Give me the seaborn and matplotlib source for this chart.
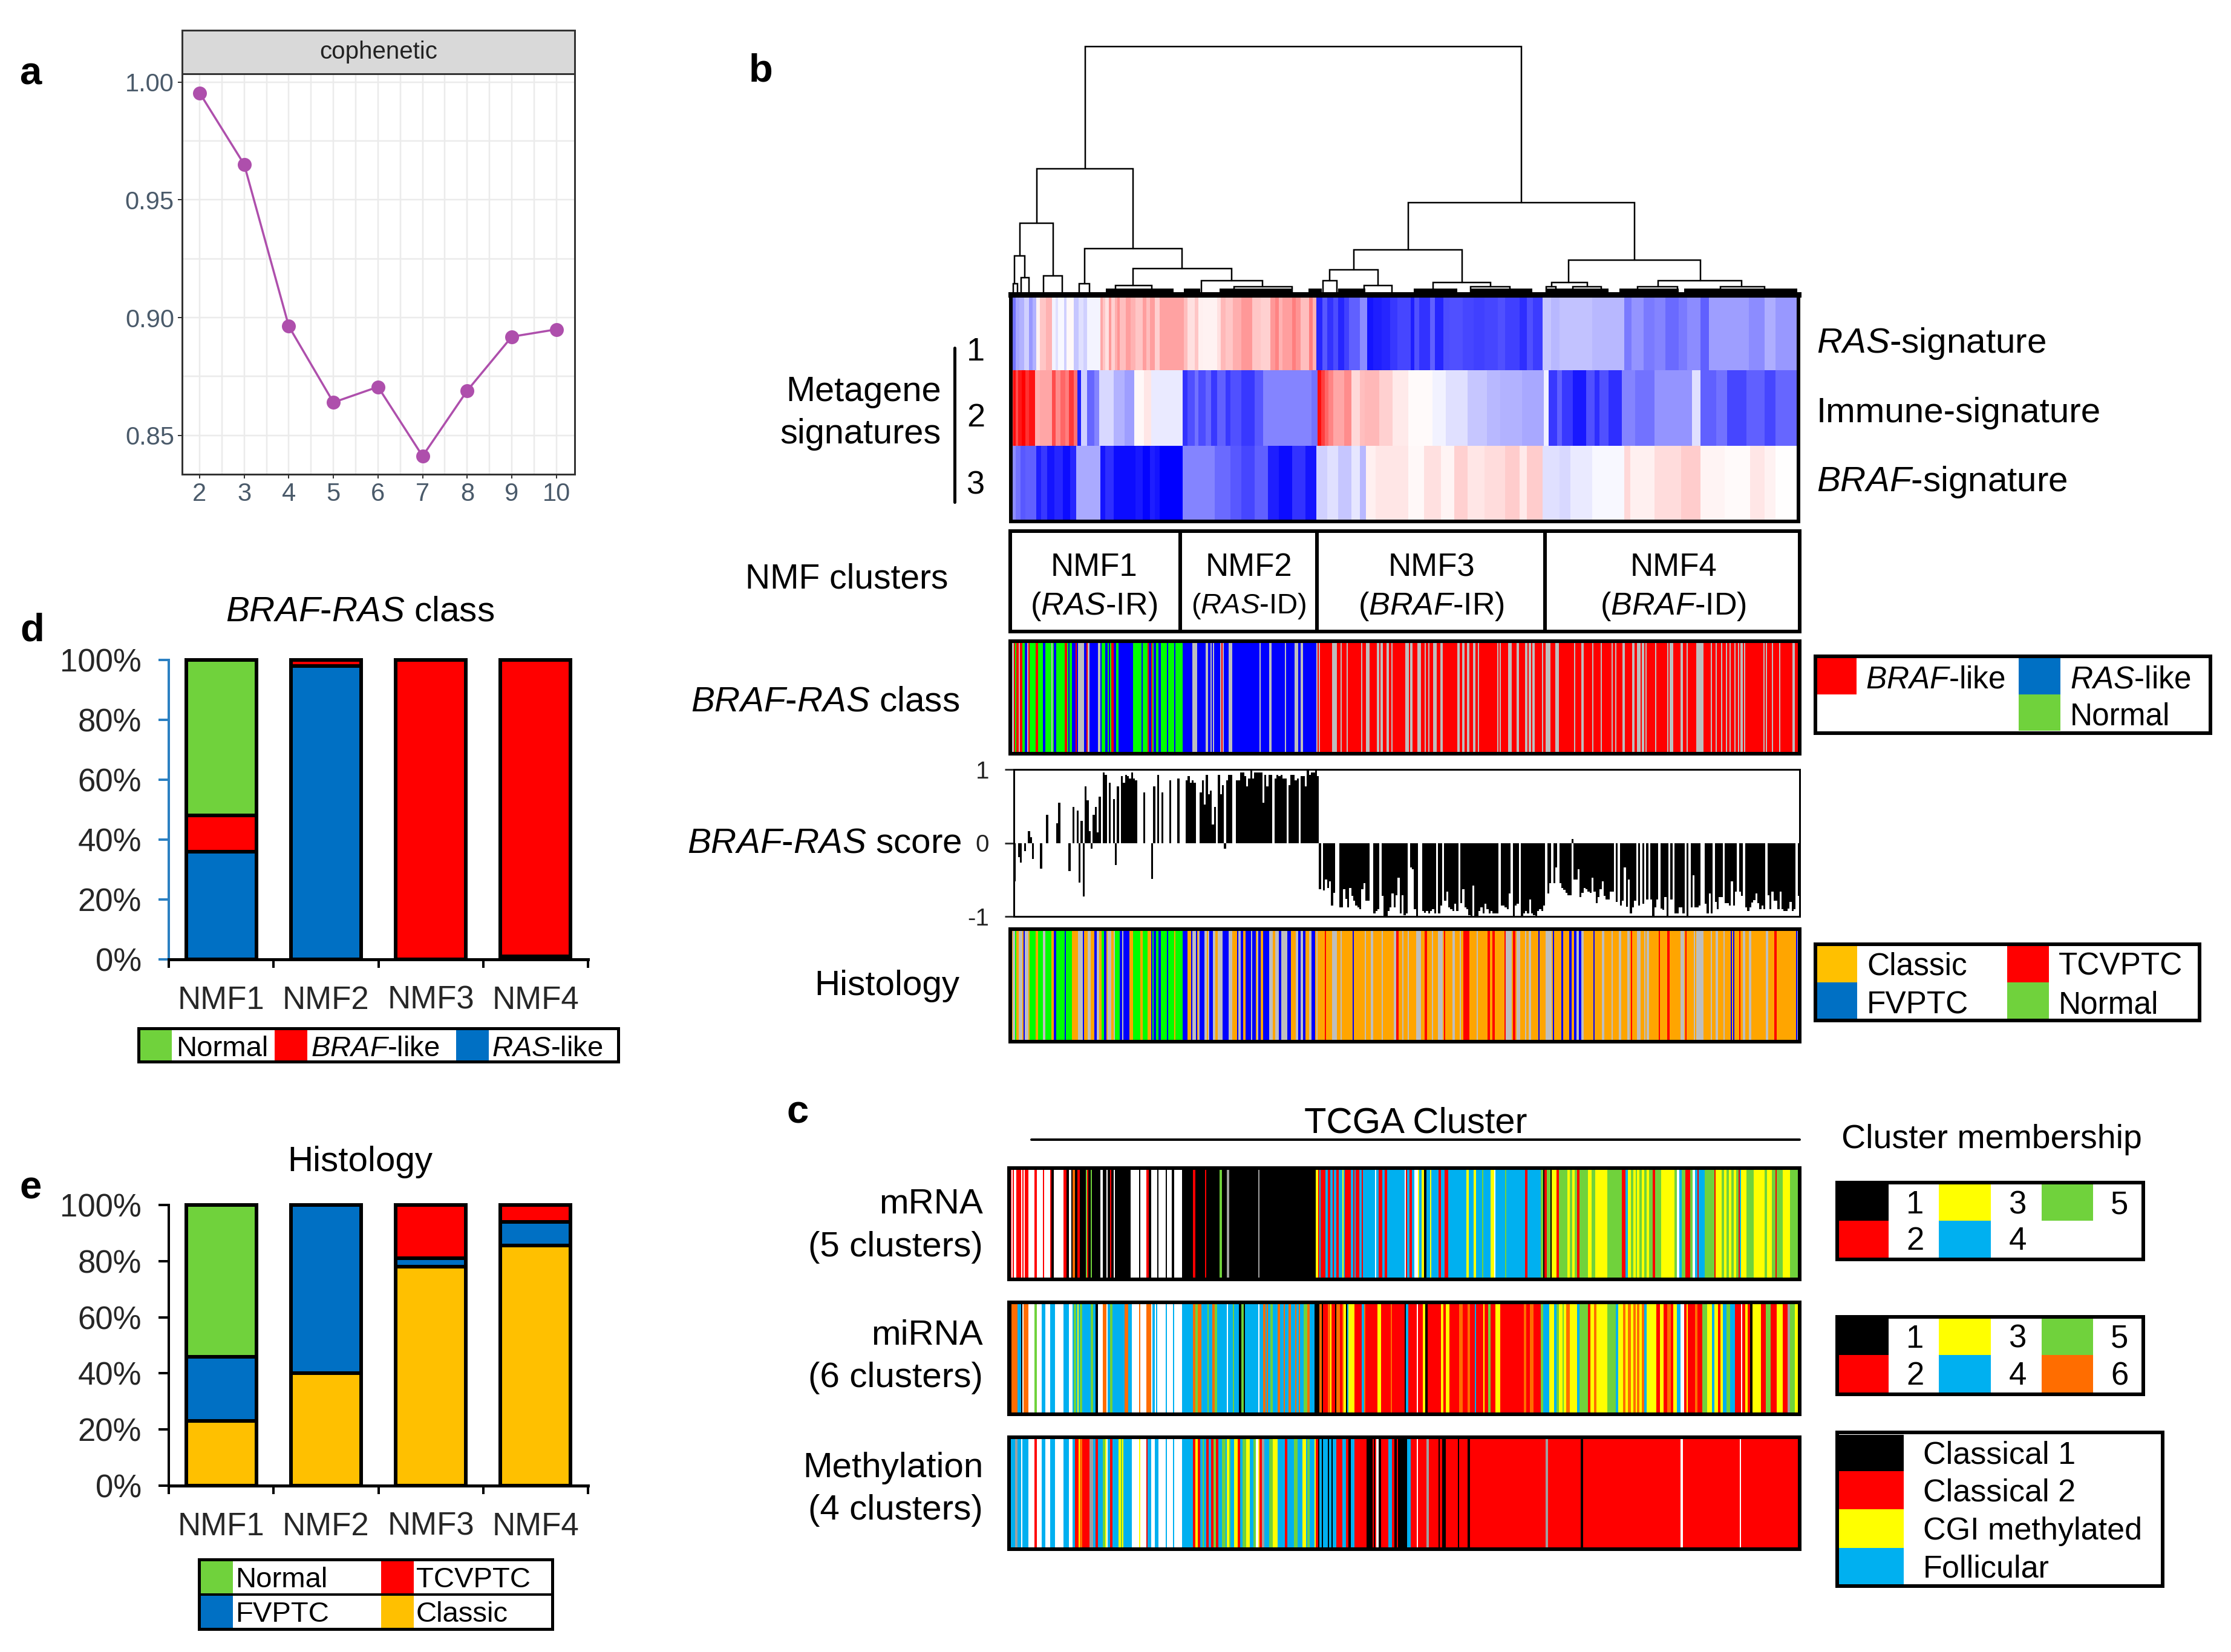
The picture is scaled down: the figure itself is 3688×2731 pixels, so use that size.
import re
import numpy as np
import pandas as pd
import matplotlib
matplotlib.use("Agg")
import matplotlib.pyplot as plt
from matplotlib.colors import ListedColormap
from matplotlib.patches import Rectangle
import seaborn as sns

W, H = 3688, 2731

# panel a
ranks = [2, 3, 4, 5, 6, 7, 8, 9, 10]
cophenetic = [0.9954, 0.9650, 0.8963, 0.8640, 0.8706, 0.8412, 0.8690, 0.8919, 0.8950]

# panels d and e
clusters = ["NMF1", "NMF2", "NMF3", "NMF4"]
class_ras = [36, 98, 0, 1]
class_braf = [12, 2, 100, 99]
class_normal = [52, 0, 0, 0]
hist_classic = [23, 40, 78, 85.5]
hist_fvptc = [23, 60, 3, 8.5]
hist_tcvptc = [0, 0, 19, 6]
hist_normal = [54, 0, 0, 0]

# dendrogram merges: left/right sample, merge height, heights of the two children
dend_left = [24.6, 8.6, 131.1, 2.9, 24.3, 1.2, 10.7, 3.4, 0.7, 22.5, 40.3, 34.6, 62.9, 73.6,
             113.2, 184.2, 105.2, 139.3, 103.0, 116.6, 151.7, 178.5, 213.6, 185.6, 176.7,
             206.8, 234.3]
dend_right = [168.5, 40.3, 205.9, 13.9, 56.5, 4.6, 16.9, 5.9, 2.1, 26.0, 72.8, 46.5, 83.1, 92.9,
              148.9, 227.7, 121.3, 158.3, 107.7, 125.9, 164.8, 190.3, 241.3, 194.9, 179.9,
              220.0, 248.9]
dend_height = [746, 379, 276, 215, 139, 116, 56, 51, 33, 33, 79, 27, 41, 24,
               135, 103, 75, 37, 41, 27, 24, 37, 41, 24, 23, 24, 24]
dend_lchild = [379, 215, 135, 116, 33, 33, 0, 0, 0, 0, 27, 0, 0, 0,
               75, 37, 41, 0, 0, 0, 0, 23, 24, 0, 0, 0, 0]
dend_rchild = [276, 139, 103, 56, 79, 51, 0, 0, 0, 0, 41, 0, 24, 0,
               37, 41, 27, 24, 0, 0, 0, 24, 24, 0, 0, 0, 0]
fringe_left = [31.4, 57.2, 68.8, 98.2, 108.0, 133.0, 151.7, 176.7, 200.8, 222.2, 234.6]
fringe_right = [53.7, 62.6, 92.9, 102.7, 117.0, 147.3, 172.2, 197.2, 220.4, 234.6, 259.6]

# metagene heatmap: level in percent per run, run edges as read along the sample axis
sig1_levels = [-55, -35, -30, -18, -40, -30, 5, 22, 30, -5, -12, -3, -18, 3, -22, -12, -18, -4,
               35, 22, 12, 40, 18, 32, 42, 25, 38, 30, 22, 38, 25, 38, 18, 36,
               25, 12, 22, 6, 5, 12, 28, 22, 32, 40, 22, 18, 40, 48, 30, 38, 50, 42, 25, 50, 30,
               -85, -65, -80, -70, -85, -75, -62, -45, -92, -88, -85, -78, -72, -88, -68, -80, -62, -85, -70,
               -68, -72, -75, -72, -68, -75, -82, -68, -76,
               -22, -28, -24, -28, -52, -42, -52, -48, -58, -52, -45, -62, -38, -45, -32, -40]
sig1_edges = [24, 32, 40, 48, 58, 64, 72, 78, 90, 100, 106, 112, 122, 128, 140, 150, 158, 166, 190,
              194, 198, 205, 210, 216, 222, 226, 236, 245, 255, 268, 275, 281, 290, 300, 345,
              352, 365, 372, 380, 405, 412, 420, 435, 450, 470, 485, 505, 512, 520, 526, 545, 552, 560, 575, 582, 590,
              600, 610, 620, 630, 640, 650, 670, 683, 695, 710, 725, 740, 765, 772, 780, 800, 810, 825, 835,
              860, 880, 900, 925, 940, 965, 980, 990, 1008,
              1025, 1040, 1100, 1160, 1172, 1195, 1215, 1235, 1260, 1275, 1300, 1317, 1390, 1420, 1440, 1482]
sig2_levels = [70, 95, 70, 90, 100, 80, 92, 30, 35, 70, 45, 60, 50, 78, 55, -88, -18, -60, -48, -15, -30, -38,
               3, 10, -8, -80, -68, -55, -70, -60, -78, -62, -78, -68, -78, -65, -48, -55,
               95, 75, 60, 48, 35, 45, 15, 25, 28, 18, 8, 2, -5, -12, -22, -28, -30, -34, -6,
               -78, -62, -78, -90, -68, -82, -68, -82, -48, -55, -42, -12, -62, -55, -72, -62, -72, -60]
sig2_edges = [24, 28, 32, 38, 44, 50, 58, 68, 78, 100, 108, 115, 125, 132, 140, 148, 155, 165, 178, 188, 215, 235, 253,
              270, 285, 343, 352, 365, 372, 385, 395, 405, 420, 430, 450, 475, 490, 580, 592,
              598, 606, 612, 620, 640, 655, 670, 680, 705, 730, 760, 805, 830, 870, 905, 930, 970, 1010, 1020,
              1035, 1045, 1065, 1090, 1105, 1115, 1130, 1155, 1180, 1215, 1285, 1300, 1330, 1350, 1385, 1420, 1440, 1482]
sig3_levels = [-45, -55, -65, -62, -88, -78, -92, -85, -95, -85, -33, -92, -82, -95, -90, -98, -88, -92, -100,
               -48, -58, -65, -72, -62, -88, -95, -80, -92,
               -18, -12, -22, -10, -28, 6, 10, 3, 12, 4, 18, 10, 14, 20, 8, 20,
               -12, -15, -8, -3, 15, 6, 14, 20, 4, 2, 10, 5, 0]
sig3_edges = [24, 32, 42, 50, 70, 80, 92, 105, 120, 135, 145, 190, 200, 215, 255, 268, 282, 290, 300, 343,
              400, 430, 450, 475, 500, 520, 545, 570, 590,
              610, 630, 655, 670, 682, 700, 760, 790, 820, 845, 870, 900, 940, 965, 980, 1008,
              1040, 1060, 1100, 1160, 1170, 1215, 1265, 1300, 1345, 1392, 1420, 1440, 1482]

# sample annotation strips, letter = category, number = run width
class_left = ("R7 X10 R7 G6 R10 X7 R13 G7 R5 B7 X7 R5 G30 R12 G26 B7 G30 X5 G8 B10 G44 R8 G6 B4 G15 B15 R8 B7 "
              "X25 B12 R8 X5 B43 X7 B10 G13 B12 G7 B5 G6 R12 B15 G7 B6 X4 B13 X5 B44 G38 B6 G24 R8 B12 R5 G6 "
              "B12 G12 B8 G32 B6 G30 B5 G31 B49 X20 B42 X13 B12 X5 B7 X6 B27 X5 R7 X6 B24 X18 B125 X7 B41 X13 "
              "B61 X8 B42 X13 B13 X12 B62 X6 R5 X7 R24")
class_right = ("R25 X13 R14 X4 R14 X6 R42 X5 R11 X13 R21 X7 R5 X8 R12 X6 R8 X4 R42 X10 R6 X6 R15 X13 R10 X6 R7 X4 "
               "R13 X10 R13 X8 R46 X9 R9 X5 R10 X5 R15 X5 R8 X5 R60 X4 R4 X4 R23 X9 R16 X10 R20 X6 R4 X7 R7 X6 "
               "R22 X6 R8 X14 R17 X12 R30 B3 R15 X3 R20 X8 R26 X4 R24 X5 R30 X5 R8 X3 R21 X8 R22 X6 R8 X14 R5 "
               "X5 R7 X3 R5 X2 R18 X5 R35 X5 R5 X5 R2 X3 R22 X11 R12 X2 R28 X22 R26 X4 R10 X5 R10 X5 R10 X6 R7 "
               "X5 R10 X5 R7 X4 R6 X5 R5 X3 R60 X5 R5 X3 R15 X4 R18 X4 R39 X10 R15")
hist_left = ("O10 X12 G5 O13 X20 O5 B5 X15 O5 G30 O12 G26 X9 G28 O12 B11 G44 B6 G8 B4 G15 O27 X6 B4 X16 B7 O17 X8 "
             "O20 B10 X15 O10 G13 B7 O10 X15 O10 X10 G8 B4 G6 X4 B13 X5 B30 O14 G38 O6 G27 O17 B6 G5 B12 G12 B8 "
             "G32 B6 G30 O5 G32 O4 B21 O18 B5 X20 B4 O6 X7 B20 X15 O5 X5 B15 X15 O7 X23 B32 X18 O25 B5 X10 B10 "
             "O13 B25 X5 B17 O7 X5 B8 X5 O10 B30 X15 O10 X17 B15 X26 B20 O20 X12 B13 X12 B12 O18 X13 B12 O7 X6 O36")
hist_right = ("R3 O22 X13 O14 X4 O14 R2 O20 B3 O25 R3 O7 X4 O16 X5 O30 X5 O28 B3 O4 X5 O3 R5 O12 X6 O9 X5 O26 X14 "
              "O12 R8 O15 X5 O15 X17 O2 R4 O22 X10 O15 X5 O8 R17 O25 X5 O32 R5 O8 R7 O28 B3 O2 R3 O2 X20 O1 R9 O5 "
              "X12 O13 X5 O10 X8 O22 B4 O21 X20 O2 B3 O25 B5 O5 B3 O12 B4 O11 B5 X10 B8 X7 O31 B4 O25 X5 O25 X5 "
              "O20 X5 O23 X5 O5 R4 O14 X14 O10 X5 O5 X5 O35 R4 O23 R5 O35 X13 O3 R4 O23 X5 O5 X22 O26 X4 O10 X8 "
              "O15 X5 O18 B4 O5 B4 O17 R4 O8 X5 O15 X5 O27 R3 O20 X5 O20 R8 O62 B4 X9")
mrna_left = ("R13 W7 R6 W7 R5 W5 R15 W5 R5 W8 R17 W30 R10 W27 R10 W25 R7 K12 W46 R16 K6 W14 K6 O12 K14 R10 K26 L6 "
             "R6 K12 L10 K38 W12 K15 W6 K12 R8 K9 W10 K75 W38 K7 W28 R10 K15 W27 K8 W35 K5 W25 K7 W35 K53 R12 K46 "
             "R10 K62 L8 K27 X9 K139 X7 K270 Y10 R6 C6 R17")
mrna_right = ("R4 C8 R6 C8 R6 C8 R8 C12 Y3 C3 R22 C6 R6 C4 R10 C8 R5 C38 W5 C10 R10 C10 R7 C55 W3 R6 C6 R8 C10 W10 "
              "Y5 C8 Y7 K10 C10 Y5 C22 R8 C15 R10 C60 Y7 C18 Y5 C22 L5 C23 Y13 W4 C28 L7 C58 R10 C43 L7 K5 R8 L12 "
              "K3 Y17 R8 L27 Y8 L8 Y8 L6 R10 L25 Y15 L10 Y40 L50 R10 C7 Y8 L8 Y7 L7 Y7 L8 Y8 L8 Y7 L12 R8 L20 Y45 "
              "L5 W10 C8 L12 R15 L10 W6 C7 R7 C20 L30 R5 Y20 L8 Y8 L8 Y8 L8 Y8 L5 R6 C4 Y15 L25 Y35 L8 Y14 L13 R5 "
              "L20 Y25 L30")
mirna_left = ("X4 K10 O29 C13 K6 W7 O24 W30 L10 W25 C15 W23 C24 W44 C19 W17 C8 L10 C8 Y7 C7 L8 C42 L10 C16 K10 W24 "
              "O15 W5 C13 L12 C58 O15 C17 W38 O7 W26 O22 W6 C12 W7 C7 W43 C5 W25 C8 W34 C53 O10 X5 L10 O15 C28 L7 "
              "C20 O12 L11 C47 W7 C23 L5 C20 K15 L10 K8 C42 L5 C15 W3 C22 O8 C7 O7 C13 L7 C28 O10 C15 O8 C19 O8 "
              "C18 O8 C8 O8 C18 L15 O15 C25 K21 O14 K5 R4")
mirna_right = ("R12 O8 Y5 R10 K5 O10 R10 O5 Y5 K4 C4 Y19 R25 C7 O6 R40 Y12 R31 O4 R38 K6 C6 R26 W7 R13 Y9 K10 R43 Y8 "
               "R8 Y12 R30 O10 R17 O7 R16 C5 R22 Y5 R13 L9 R13 Y15 R75 O11 R12 O12 R22 L6 C20 Y17 C10 L8 Y8 L7 Y7 "
               "O10 Y25 C10 L25 R7 Y13 O10 Y35 L25 C10 Y15 O8 Y7 O8 Y7 O8 Y7 O8 Y7 O7 C10 Y30 R10 Y15 R10 O10 R10 "
               "Y10 C15 W10 R7 Y6 R22 O10 R15 L15 Y15 C10 Y9 R8 Y8 C15 L12 C13 R20 W5 R9 Y8 R8 K7 Y28 R15 L15 R20 "
               "Y20 R15 X10 L15 Y15")
meth_left = ("C28 X10 C20 W5 C30 W30 R10 W25 C15 W25 C22 W44 C19 W17 C13 R17 Y10 O8 R35 X17 C13 R10 C25 L12 Y8 W3 "
             "C12 R10 C33 Y7 L7 Y5 C40 W38 Y7 W26 R9 C15 W18 C20 W35 C5 W25 C10 W32 C53 R12 Y13 R10 C13 L7 C10 R10 "
             "C10 R15 L10 R10 C20 L15 C10 Y8 L7 C20 Y15 R10 C15 L15 Y20 C15 L15 W8 Y7 R15 X10 C20 L20 Y25 C30 R12 "
             "C33 L15 C25 Y15 C10 L10 C20 Y10 R12 K4 C14 K5 C4")
meth_right = ("C12 K3 C9 K4 C10 R22 C12 R8 K6 C14 R37 K19 R6 K4 R4 W8 K7 R25 C10 R8 K6 R5 K29 C12 R18 W6 R26 X8 R30 "
              "K4 R8 K13 R37 K6 R29 K5 R246 X6 R108 K5 R317 W6 R185 W4 R188")

# BRAF-RAS score per sample, in percent
score_left = [-52, 0, -19, -27, 0, -11, 0, 16, 8, -22, 0, 0, 0, -35, 0, 0, 38, 0, 0, 0, 0, 27, 55, 0, 0, 0, 0, -38,
              0, 49, 0, 44, -54, 30, -73, 77, 58, 16, -8, 38, 49, 14, 63, 0, 96, 93, 0, 82, 0, 60, -30, 77, 0, 91,
              82, 93, 91, 88, 96, 88, 85, 0, 0, 0, 69, 0, 0, 0, -49, 77, 0, 93, 0, 69, 0, 0, 0, 85, 0, 0, 0, 88, 0,
              0, 0, 85, 91, 82, 85, 82, 0, 0, 69, 85, 52, 93, 66, 71, 25, 49, 0, 93, 66, 79, -8, 85, 93, 93, 0, 0,
              85, 85, 96, 96, 91, 77, 88, 99, 88, 96, 96, 96, 96, 55, 93, 77, 93, 93, 0, 88, 93, 91, 93, 88, 88, 0,
              79, 93, 93, 85, 88, 0, 91, 91, 77, 99, 93, 96, 96, 99, 91]
score_right = [-63, 0, -65, -50, -61, -52, -85, -68, 0, 0, -88, -88, -63, -76, -88, -61, -72, -79, -85, -88, -90, -63,
               -55, -79, -79, 0, 0, -96, -93, -90, 0, -72, -99, -99, -93, -88, -69, -88, -71, -47, -96, -71, -98, -96,
               0, -33, -36, -90, -99, 0, 0, -93, -95, -93, -96, -93, -90, -96, 0, -96, -85, 0, -79, -66, -88, -90,
               -93, -83, -93, 0, -82, -63, -88, -90, -98, -99, -58, -99, -99, -93, -88, -96, -83, -90, -96, -93, -96,
               -96, -96, 0, -85, -85, -88, -90, -69, 0, -99, -85, -83, 0, -99, -96, -93, -96, -77, -96, -98, -99,
               -93, -90, -93, -85, 0, -69, -55, 0, -55, -33, 0, -55, -61, -64, -68, -71, -71, 5, -50, -50, -36, -74,
               -68, -61, -63, -66, -68, -47, -66, -82, -74, -63, -52, -72, -77, -77, -66, -66, 0, -80, 0, -85, -79,
               -33, -87, -50, -96, -88, -79, 0, -85, 0, -83, 0, -77, 0, -77, -100, -88, -77, 0, -89, -91, -74, -100,
               0, -77, 0, -96, -96, -88, -88, -96, 0, -99, 0, -88, -44, -88, -88, -85, 0, 0, -83, -96, -69, -96, 0,
               -80, -90, -74, -74, 0, -82, -82, -85, -52, -85, -66, 0, -66, -72, 0, -88, -93, -88, -81, -78, -69, -82,
               -90, -85, -90, 0, -71, -90, -66, -79, -79, -90, -66, -90, -93, -93, -89, -80, -93, -90, 0, -72]

COL_GREEN = "#70D23C"
COL_RED = "#FF0000"
COL_BLUE = "#0070C4"
COL_GOLD = "#FFC000"
COL_CYAN = "#00B0F0"

strip_colors = {"R": "#FF0000", "B": "#0000FF", "G": "#00FF00", "X": "#BEBEBE", "O": "#FFA500"}
tcga_colors = {"K": "#000000", "R": "#FF0000", "Y": "#FFFF00", "C": COL_CYAN, "L": COL_GREEN,
               "O": "#FF6D00", "W": "#FFFFFF", "X": "#A0A0A0"}

sns.set_theme(style="white")
plt.rcParams["font.family"] = ["Liberation Sans", "DejaVu Sans"]
plt.rcParams["mathtext.fontset"] = "custom"
plt.rcParams["mathtext.rm"] = "Liberation Sans"
plt.rcParams["mathtext.it"] = "Liberation Sans:italic"
plt.rcParams["mathtext.default"] = "regular"

fig = plt.figure(figsize=(W / 100, H / 100), dpi=100, facecolor="white")


def px(v):
    # pixels to points at dpi 100
    return v * 0.72


def add_ax(x0, y0, x1, y1):
    return fig.add_axes([x0 / W, 1 - y1 / H, (x1 - x0) / W, (y1 - y0) / H])


def expand(tokens, n):
    # run tokens to n samples, widths scaled so each half of a strip stays aligned
    runs = re.findall(r"([A-Z])(\d+)", tokens)
    letters = [r[0] for r in runs]
    edges = np.round(np.cumsum([int(r[1]) for r in runs]) * n / sum(int(r[1]) for r in runs)).astype(int)
    return np.repeat(letters, np.diff(np.concatenate([[0], edges])))


def draw_strip(box, left, right, colors):
    keys = list(colors)
    cmap = ListedColormap([colors[k] for k in keys])
    samples = np.concatenate([expand(left, 259), expand(right, 391)])
    codes = np.array([keys.index(s) for s in samples])[None, :]
    ax = add_ax(*box)
    sns.heatmap(codes, cmap=cmap, vmin=0, vmax=len(keys) - 1, cbar=False,
                xticklabels=False, yticklabels=False, ax=ax)
    for s in ax.spines.values():
        s.set_visible(True)
        s.set_color("black")
        s.set_linewidth(px(6))
    return ax


def levels_row(levels, run_edges, n=650):
    edges = np.round((np.array(run_edges) - run_edges[0]) * n / (run_edges[-1] - run_edges[0])).astype(int)
    return np.repeat(np.array(levels) / 100, np.diff(edges))


# a: cophenetic
ax_a = add_ax(301, 122, 950, 784)
ax_a.set_axisbelow(True)
sns.lineplot(x=ranks, y=cophenetic, color="#AE4FAC", linewidth=px(3.5), marker="o",
             markersize=px(23), markeredgewidth=0, ax=ax_a)
ax_a.set_xlim(1.607, 10.41)
ax_a.set_ylim(0.8335, 1.0035)
ax_a.set_xticks(ranks)
ax_a.set_yticks([0.85, 0.90, 0.95, 1.00])
ax_a.set_yticklabels(["0.85", "0.90", "0.95", "1.00"])
ax_a.set_xticks([r + 0.5 for r in ranks[:-1]], minor=True)
ax_a.set_yticks([0.875, 0.925, 0.975], minor=True)
ax_a.grid(True, which="both", color="#EBEBEB", linewidth=px(2.5))
ax_a.tick_params(which="major", length=px(7), width=px(2), color="#333333", labelsize=30,
                 labelcolor="#4A5A6A", bottom=True, left=True, pad=px(6))
ax_a.tick_params(which="minor", length=0)
for s in ax_a.spines.values():
    s.set_visible(True)
    s.set_color("#333333")
    s.set_linewidth(px(3))
ax_strip = add_ax(301, 50, 950, 122)
ax_strip.set_facecolor("#D9D9D9")
ax_strip.set_xticks([])
ax_strip.set_yticks([])
for s in ax_strip.spines.values():
    s.set_visible(True)
    s.set_color("#333333")
    s.set_linewidth(px(3))
ax_strip.text(0.5, 0.5, "cophenetic", ha="center", va="center", fontsize=29, color="#222222",
              transform=ax_strip.transAxes)


def stacked(box, layers, axis_color):
    ax = add_ax(*box)
    # tallest cumulative goes first, each lower layer paints over it
    cum = np.cumsum([np.array(v, dtype=float) for v, _ in layers], axis=0)
    for i in range(len(layers) - 1, -1, -1):
        df = pd.DataFrame({"cluster": clusters, "pct": cum[i]})
        sns.barplot(data=df, x="cluster", y="pct", color=layers[i][1], saturation=1, width=0.67,
                    edgecolor="black", linewidth=px(6), ax=ax)
    for p in ax.patches:
        p.set_clip_on(False)
    ax.set_ylim(0, 100)
    ax.set_xlim(-0.5, 3.5)
    ax.set(xlabel=None, ylabel=None)
    ax.set_yticks([0, 20, 40, 60, 80, 100])
    ax.set_yticklabels(["0%", "20%", "40%", "60%", "80%", "100%"])
    ax.set_xticks([0, 1, 2, 3])
    ax.set_xticks([-0.5, 0.5, 1.5, 2.5, 3.5], minor=True)
    ax.tick_params(axis="x", which="major", length=0, labelsize=38, pad=px(43))
    ax.tick_params(axis="x", which="minor", length=px(14), width=px(4), color="black", bottom=True)
    ax.tick_params(axis="y", length=px(17), width=px(4), color=axis_color, labelsize=38, left=True, pad=px(28))
    ax.spines["top"].set_visible(False)
    ax.spines["right"].set_visible(False)
    ax.spines["bottom"].set_color("black")
    ax.spines["bottom"].set_linewidth(px(5))
    ax.spines["left"].set_color(axis_color)
    ax.spines["left"].set_linewidth(px(4))
    ax.patch.set_alpha(0)
    return ax


stacked((279, 1091, 972, 1586), [(class_ras, COL_BLUE), (class_braf, COL_RED), (class_normal, COL_GREEN)], "#2B80C2")
stacked((279, 1992, 972, 2456), [(hist_classic, COL_GOLD), (hist_fvptc, COL_BLUE), (hist_tcvptc, COL_RED),
                                 (hist_normal, COL_GREEN)], "black")

# b: dendrogram
ax_dend = add_ax(1671, 72, 2973, 487)
for xl, xr, h, hl, hr in zip(dend_left, dend_right, dend_height, dend_lchild, dend_rchild):
    ax_dend.plot([xl, xl, xr, xr], [hl, h, h, hr], color="black", linewidth=px(2.5), solid_joinstyle="miter")
ax_dend.hlines([12] * len(fringe_left), fringe_left, fringe_right, color="black", linewidth=px(6))
ax_dend.set_xlim(0, 260)
ax_dend.set_ylim(0, 746 * 415 / 410)
ax_dend.axis("off")

# b: metagene heatmap
ax_heat = add_ax(1671, 487, 2973, 862)
sig_matrix = np.vstack([levels_row(sig1_levels, sig1_edges), levels_row(sig2_levels, sig2_edges),
                        levels_row(sig3_levels, sig3_edges)])
sns.heatmap(sig_matrix, cmap="bwr", vmin=-1, vmax=1, cbar=False, xticklabels=False, yticklabels=False, ax=ax_heat)
for s in ax_heat.spines.values():
    s.set_visible(True)
    s.set_color("black")
    s.set_linewidth(px(6))
ax_heat.spines["top"].set_linewidth(px(9))

# b: annotation strips
draw_strip((1670, 1060, 2975, 1246), class_left, class_right, strip_colors)
draw_strip((1670, 1536, 2975, 1722), hist_left, hist_right, strip_colors)

# b: score bars
score = np.concatenate([score_left, score_right]) / 100
ax_score = add_ax(1676, 1272, 2975, 1515)
sns.barplot(x=np.arange(len(score)), y=score, native_scale=True, color="black", saturation=1, width=1,
            linewidth=0, ax=ax_score)
ax_score.set_xlim(-0.5, len(score) - 0.5)
ax_score.set_ylim(-1, 1)
ax_score.set(xlabel=None, ylabel=None)
ax_score.set_xticks([])
ax_score.set_yticks([-1, 0, 1])
ax_score.set_yticklabels(["-1", "0", "1"])
ax_score.tick_params(axis="y", length=px(15), width=px(3), color="#333333", labelsize=29,
                     labelcolor="#222222", left=True, pad=px(26))
for s in ax_score.spines.values():
    s.set_visible(True)
    s.set_color("black")
    s.set_linewidth(px(3))

# c: TCGA strips
draw_strip((1668, 1931, 2975, 2115), mrna_left, mrna_right, tcga_colors)
draw_strip((1668, 2153, 2975, 2338), mirna_left, mirna_right, tcga_colors)
draw_strip((1668, 2376, 2975, 2561), meth_left, meth_right, tcga_colors)

# overlay for text, boxes and legends, in image pixels
ov = fig.add_axes([0, 0, 1, 1], zorder=10)
ov.set_xlim(0, W)
ov.set_ylim(H, 0)
ov.axis("off")


def txt(x, y, s, size, ha="left", **kw):
    ov.text(x, y + 4, s, fontsize=size, ha=ha, va="center", color=kw.pop("color", "black"), **kw)


def swatch(x0, y0, x1, y1, color):
    ov.add_patch(Rectangle((x0, y0), x1 - x0, y1 - y0, facecolor=color, edgecolor="none", zorder=2))


def box(x0, y0, x1, y1, lw=6):
    ov.add_patch(Rectangle((x0, y0), x1 - x0, y1 - y0, facecolor="none", edgecolor="black",
                           linewidth=px(lw), zorder=3))


# panel letters
for x, y, s in [(50, 118, "a"), (1258, 113, "b"), (1319, 1835, "c"), (53, 1038, "d"), (51, 1960, "e")]:
    txt(x, y, s, 47, ha="center", fontweight="bold")

# titles d, e and their legends
txt(595, 1007, r"$\mathit{BRAF}$-$\mathit{RAS}$ class", 42, ha="center")
txt(595, 1917, "Histology", 42, ha="center")

box(229, 1700, 1022, 1755, lw=5)
swatch(230, 1702, 284, 1753, COL_GREEN)
txt(291, 1730, "Normal", 34)
swatch(454, 1702, 508, 1753, COL_RED)
txt(514, 1730, r"$\mathit{BRAF}$-like", 34)
swatch(754, 1702, 808, 1753, COL_BLUE)
txt(813, 1730, r"$\mathit{RAS}$-like", 34)

box(329, 2578, 913, 2693, lw=5)
ov.plot([329, 913], [2636, 2636], color="black", linewidth=px(4), zorder=3)
swatch(331, 2580, 385, 2635, COL_GREEN)
swatch(331, 2637, 385, 2691, COL_BLUE)
swatch(630, 2580, 684, 2635, COL_RED)
swatch(630, 2637, 684, 2691, COL_GOLD)
txt(389, 2608, "Normal", 34)
txt(389, 2665, "FVPTC", 34)
txt(688, 2608, "TCVPTC", 34)
txt(688, 2665, "Classic", 34)

# b labels
txt(1556, 644, "Metagene", 41.5, ha="right")
txt(1556, 714, "signatures", 41.5, ha="right")
ov.plot([1578, 1578], [575, 830], color="black", linewidth=px(5))
for y, s in [(578, "1"), (687, "2"), (798, "3")]:
    txt(1613, y, s, 39, ha="center")
txt(3003, 564, r"$\mathit{RAS}$-signature", 42)
txt(3003, 679, "Immune-signature", 42)
txt(3003, 793, r"$\mathit{BRAF}$-signature", 42)

txt(1232, 953, "NMF clusters", 41)
box(1670, 878, 2975, 1044)
for x in [1951, 2177, 2554]:
    ov.plot([x, x], [878, 1044], color="black", linewidth=px(6))
nmf_x = [1808, 2064, 2366, 2766]
nmf_sub = [r"($\mathit{RAS}$-IR)", r"($\mathit{RAS}$-ID)", r"($\mathit{BRAF}$-IR)", r"($\mathit{BRAF}$-ID)"]
nmf_size = [37.5, 34, 37.5, 37.5]
for x, name, sub, size in zip(nmf_x, clusters, nmf_sub, nmf_size):
    txt(x, 934, name, 38, ha="center")
    txt(x, 998, sub, size, ha="center")

txt(1586, 1156, r"$\mathit{BRAF}$-$\mathit{RAS}$ class", 42, ha="right")
txt(1590, 1390, r"$\mathit{BRAF}$-$\mathit{RAS}$ score", 42, ha="right")
txt(1586, 1626, "Histology", 42, ha="right")

# b legends
box(3001, 1085, 3654, 1212)
swatch(3004, 1088, 3069, 1148, COL_RED)
swatch(3337, 1088, 3406, 1148, COL_BLUE)
swatch(3337, 1148, 3406, 1208, COL_GREEN)
txt(3084, 1120, r"$\mathit{BRAF}$-like", 37)
txt(3422, 1120, r"$\mathit{RAS}$-like", 37)
txt(3422, 1181, "Normal", 37)

box(3001, 1561, 3636, 1687)
swatch(3004, 1564, 3070, 1624, COL_GOLD)
swatch(3004, 1624, 3070, 1684, COL_BLUE)
swatch(3318, 1564, 3387, 1624, COL_RED)
swatch(3318, 1624, 3387, 1684, COL_GREEN)
txt(3086, 1594, "Classic", 37)
txt(3086, 1658, "FVPTC", 37)
txt(3403, 1594, "TCVPTC", 37)
txt(3403, 1658, "Normal", 37)

# c labels
txt(2340, 1853, "TCGA Cluster", 43, ha="center")
ov.plot([1705, 2975], [1884, 1884], color="black", linewidth=px(4))
txt(1625, 1987, "mRNA", 42, ha="right")
txt(1625, 2058, "(5 clusters)", 42, ha="right")
txt(1625, 2204, "miRNA", 42, ha="right")
txt(1625, 2274, "(6 clusters)", 42, ha="right")
txt(1625, 2423, "Methylation", 42, ha="right")
txt(1625, 2493, "(4 clusters)", 42, ha="right")

txt(3044, 1880, "Cluster membership", 40)


def count_legend(y0, y1, y2, cols):
    ym = (y0 + y1) / 2
    ym2 = (y1 + y2) / 2
    for x0, x1, xlab, top, bottom in cols:
        if top:
            swatch(x0, y0, x1, y1, top[0])
            txt(xlab, ym, top[1], 38, ha="center")
        if bottom:
            swatch(x0, y1, x1, y2, bottom[0])
            txt(xlab, ym2, bottom[1], 38, ha="center")
    box(3037, y0 - 3, 3543, y2 + 3)


count_legend(1958, 2018, 2079, [(3034, 3122, 3166, ("#000000", "1"), (COL_RED, "2")),
                                (3205, 3291, 3335, ("#FFFF00", "3"), (COL_CYAN, "4")),
                                (3375, 3460, 3504, (COL_GREEN, "5"), None)])
count_legend(2180, 2240, 2302, [(3034, 3122, 3166, ("#000000", "1"), (COL_RED, "2")),
                                (3205, 3291, 3335, ("#FFFF00", "3"), (COL_CYAN, "4")),
                                (3375, 3460, 3504, (COL_GREEN, "5"), ("#FF6D00", "6"))])

meth_names = ["Classical 1", "Classical 2", "CGI methylated", "Follicular"]
meth_swatch = ["#000000", COL_RED, "#FFFF00", COL_CYAN]
meth_rows = [2372, 2432, 2495, 2559, 2620]
for i in range(4):
    swatch(3034, meth_rows[i], 3147, meth_rows[i + 1], meth_swatch[i])
    txt(3179, (meth_rows[i] + meth_rows[i + 1]) / 2, meth_names[i], 37.5)
box(3037, 2368, 3575, 2622)

fig.savefig("out.png", dpi=100, facecolor="white")
